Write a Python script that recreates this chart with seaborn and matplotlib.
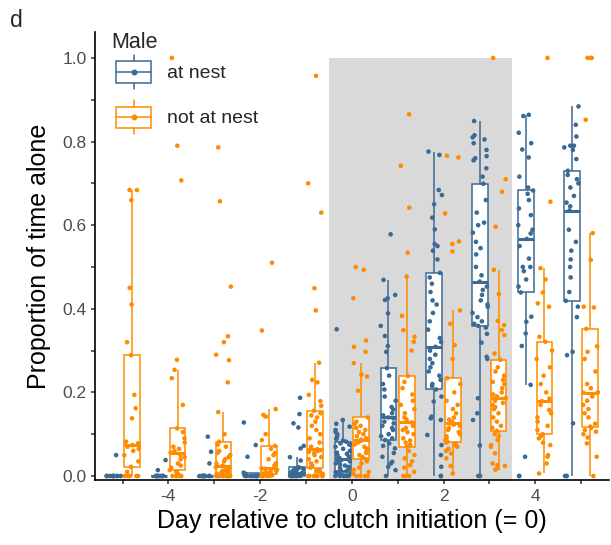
import numpy as np
import pandas as pd
import matplotlib
matplotlib.use("Agg")
import matplotlib.pyplot as plt
import seaborn as sns
from matplotlib.legend_handler import HandlerBase
from matplotlib.patches import Rectangle, Patch
from matplotlib.lines import Line2D

# ---------------- data ----------------
days = [-5, -4, -3, -2, -1, 0, 1, 2, 3, 4, 5]
groups = ["at nest", "not at nest"]

at_nest_m5 = [0, 0, 0, 0, 0, 0, 0, 0, 0, 0, 0.05]
away_m5 = [0, 0, 0, 0, 0, 0.01, 0.022, 0.035, 0.05, 0.06, 0.065, 0.07, 0.074, 0.078, 0.082,
           0.138, 0.162, 0.194, 0.289, 0.32, 0.41, 0.45, 0.66, 0.684, 0.684]

at_nest_m4 = [0, 0, 0, 0, 0, 0, 0, 0, 0, 0, 0.014, 0.038]
away_m4 = [0, 0, 0, 0, 0, 0.005, 0.01, 0.014, 0.02, 0.025, 0.03, 0.04, 0.045, 0.05, 0.056,
           0.06, 0.065, 0.07, 0.08, 0.09, 0.105, 0.114, 0.17, 0.234, 0.254, 0.278, 0.707, 0.79, 1.0]

at_nest_m3 = [0, 0, 0, 0, 0, 0, 0, 0, 0, 0, 0.03, 0.058, 0.094]
away_m3 = [0, 0, 0, 0, 0, 0, 0, 0, 0, 0, 0.005, 0.007, 0.009, 0.011, 0.013, 0.015, 0.017, 0.019,
           0.021, 0.023, 0.025, 0.03, 0.035, 0.04, 0.045, 0.05, 0.055, 0.06, 0.07, 0.075, 0.082,
           0.1, 0.153, 0.224, 0.277, 0.29, 0.32, 0.334, 0.453, 0.657, 0.786]

at_nest_m2 = [0, 0, 0, 0, 0, 0, 0, 0, 0, 0, 0.005, 0.008, 0.046, 0.074, 0.128]
away_m2 = [0, 0, 0, 0, 0, 0, 0.002, 0.004, 0.006, 0.008, 0.01, 0.012, 0.015, 0.017, 0.018,
           0.025, 0.03, 0.04, 0.05, 0.055, 0.065, 0.072, 0.086, 0.1, 0.142, 0.146, 0.16, 0.348, 0.51]

at_nest_m1 = [0, 0, 0, 0, 0, 0, 0, 0, 0, 0, 0.002, 0.004, 0.005, 0.006, 0.007, 0.008, 0.008,
              0.01, 0.012, 0.013, 0.015, 0.017, 0.018, 0.02, 0.021,
              0.037, 0.045, 0.066, 0.072, 0.116, 0.126, 0.148, 0.187]
away_m1 = [0, 0, 0, 0, 0, 0, 0, 0.005, 0.01, 0.012, 0.015, 0.02, 0.025, 0.03, 0.035, 0.04,
           0.045, 0.05, 0.055, 0.058, 0.06, 0.062, 0.064, 0.07, 0.08, 0.09, 0.1, 0.11, 0.12,
           0.13, 0.14, 0.145, 0.15, 0.156, 0.168, 0.179, 0.194, 0.224, 0.23, 0.271, 0.396,
           0.449, 0.63, 0.70, 0.957]

at_nest_0 = [0, 0, 0, 0, 0, 0, 0.003, 0.005, 0.007, 0.009, 0.011, 0.012, 0.015, 0.018, 0.02,
             0.022, 0.025, 0.028, 0.03, 0.033, 0.035, 0.038, 0.04, 0.043, 0.046, 0.05, 0.053,
             0.056, 0.06, 0.065, 0.07, 0.075, 0.078, 0.082, 0.085, 0.088, 0.09, 0.095, 0.1,
             0.105, 0.11, 0.118, 0.125, 0.134, 0.351]
away_0 = [0, 0, 0, 0, 0.005, 0.01, 0.015, 0.02, 0.03, 0.035, 0.04, 0.045, 0.05, 0.055, 0.06,
          0.065, 0.07, 0.075, 0.08, 0.084, 0.087, 0.09, 0.095, 0.1, 0.105, 0.11, 0.115, 0.12,
          0.125, 0.13, 0.14, 0.204, 0.238, 0.243, 0.27, 0.297, 0.309, 0.324, 0.425, 0.493, 0.50]

at_nest_1 = [0, 0.014, 0.022, 0.03, 0.034, 0.046, 0.055, 0.066, 0.072, 0.078, 0.086, 0.09,
             0.095, 0.1, 0.11, 0.115, 0.12, 0.126, 0.13, 0.138, 0.14, 0.145, 0.15, 0.159, 0.165,
             0.18, 0.19, 0.207, 0.22, 0.24, 0.258, 0.297, 0.311, 0.335, 0.359, 0.389, 0.421,
             0.425, 0.433, 0.469, 0.578]
away_1 = [0, 0, 0, 0.01, 0.02, 0.026, 0.035, 0.042, 0.05, 0.06, 0.07, 0.075, 0.08, 0.085, 0.09,
          0.1, 0.105, 0.11, 0.115, 0.12, 0.128, 0.135, 0.14, 0.15, 0.16, 0.17, 0.18, 0.195, 0.21,
          0.225, 0.239, 0.3, 0.321, 0.333, 0.349, 0.383, 0.477, 0.534, 0.642, 0.742, 0.865]

at_nest_2 = [0, 0, 0.022, 0.05, 0.074, 0.098, 0.134, 0.138, 0.142, 0.178, 0.19, 0.207, 0.215,
             0.22, 0.23, 0.24, 0.25, 0.26, 0.27, 0.28, 0.29, 0.3, 0.309, 0.32, 0.33, 0.35, 0.37,
             0.39, 0.41, 0.42, 0.44, 0.46, 0.475, 0.486, 0.518, 0.539, 0.55, 0.555, 0.59, 0.618,
             0.65, 0.672, 0.684, 0.768, 0.776]
away_2 = [0.006, 0.024, 0.042, 0.054, 0.06, 0.065, 0.07, 0.074, 0.078, 0.08, 0.082, 0.086,
          0.09, 0.095, 0.1, 0.105, 0.11, 0.115, 0.12, 0.123, 0.126, 0.13, 0.135, 0.14, 0.15,
          0.16, 0.17, 0.18, 0.2, 0.22, 0.234, 0.28, 0.313, 0.364, 0.396, 0.537, 0.555, 0.561,
          0.628, 0.762, 0.766]

at_nest_3 = [0, 0, 0.073, 0.134, 0.15, 0.186, 0.28, 0.285, 0.319, 0.34, 0.355, 0.359, 0.364,
             0.37, 0.38, 0.39, 0.405, 0.41, 0.42, 0.433, 0.445, 0.453, 0.465, 0.48, 0.5, 0.53,
             0.545, 0.56, 0.582, 0.6, 0.606, 0.63, 0.66, 0.699, 0.716, 0.736, 0.755, 0.76, 0.765,
             0.78, 0.796, 0.805, 0.81, 0.815, 0.849]
away_3 = [0.015, 0.018, 0.024, 0.026, 0.03, 0.054, 0.07, 0.074, 0.086, 0.095, 0.1, 0.108,
          0.115, 0.12, 0.13, 0.14, 0.15, 0.16, 0.165, 0.17, 0.175, 0.18, 0.186, 0.19, 0.195,
          0.2, 0.21, 0.22, 0.225, 0.23, 0.24, 0.25, 0.26, 0.278, 0.293, 0.337, 0.349, 0.361,
          0.371, 0.435, 0.493, 0.596, 0.68, 0.71, 1.0]

at_nest_4 = [0, 0, 0.046, 0.218, 0.311, 0.341, 0.369, 0.381, 0.439, 0.453, 0.47, 0.49, 0.5,
             0.5, 0.52, 0.55, 0.567, 0.58, 0.589, 0.6, 0.624, 0.64, 0.66, 0.675, 0.683, 0.69,
             0.716, 0.762, 0.781, 0.796, 0.821, 0.861, 0.864]
away_4 = [0.006, 0.03, 0.046, 0.05, 0.074, 0.08, 0.09, 0.095, 0.1, 0.11, 0.12, 0.13, 0.14,
          0.15, 0.158, 0.17, 0.179, 0.185, 0.2, 0.22, 0.24, 0.26, 0.28, 0.3, 0.321, 0.333,
          0.405, 0.413, 0.439, 0.47, 0.497, 0.656, 1.0]

at_nest_5 = [0, 0, 0, 0.126, 0.289, 0.297, 0.38, 0.405, 0.419, 0.44, 0.475, 0.5, 0.518, 0.539,
             0.56, 0.589, 0.635, 0.645, 0.654, 0.67, 0.69, 0.7, 0.71, 0.72, 0.73, 0.758, 0.78,
             0.786, 0.79, 0.79, 0.812, 0.84, 0.884]
away_5 = [0, 0.046, 0.078, 0.092, 0.1, 0.106, 0.11, 0.115, 0.118, 0.125, 0.14, 0.15, 0.16,
          0.17, 0.18, 0.19, 0.199, 0.2, 0.21, 0.22, 0.25, 0.28, 0.297, 0.31, 0.352, 0.403,
          0.405, 0.517, 0.581, 0.852, 1.0, 1.0, 1.0]

at_nest_lists = [at_nest_m5, at_nest_m4, at_nest_m3, at_nest_m2, at_nest_m1, at_nest_0,
                 at_nest_1, at_nest_2, at_nest_3, at_nest_4, at_nest_5]
away_lists = [away_m5, away_m4, away_m3, away_m2, away_m1, away_0,
              away_1, away_2, away_3, away_4, away_5]

shade_days = [-0.5, 3.5]   # shaded window (clutch period)
shade_top = 1.0

x_tick_labels = ["", "-4", "", "-2", "", "0", "", "2", "", "4", ""]
y_ticks = [0.0, 0.1, 0.2, 0.3, 0.4, 0.5, 0.6, 0.7, 0.8, 0.9, 1.0]
y_tick_labels = ["0.0", "", "0.2", "", "0.4", "", "0.6", "", "0.8", "", "1.0"]

# ---------------- build table ----------------
rows = []
for d, a, b in zip(days, at_nest_lists, away_lists):
    rows += [(d, groups[0], v) for v in a]
    rows += [(d, groups[1], v) for v in b]
df = pd.DataFrame(rows, columns=["day", "Male", "prop"])

# ---------------- style ----------------
sns.set_style("ticks")
plt.rcParams["font.family"] = ["Liberation Sans", "DejaVu Sans"]

BLUE = "#3B6A94"
ORANGE = "#FF8C00"
colors = {groups[0]: BLUE, groups[1]: ORANGE}

fig = plt.figure(figsize=(6.11, 5.45), dpi=100)
W, H = 611, 545
ax = fig.add_axes([95 / W, 65 / H, 513.6 / W, 448 / H])

ax.fill_between(shade_days, -0.02, shade_top, color="#D9D9D9", lw=0, zorder=0)

for g in groups:
    sns.boxplot(data=df[df["Male"] == g], x="day", y="prop", hue="Male", hue_order=groups,
                native_scale=True, dodge=True, palette={k: "white" for k in groups},
                linecolor=colors[g], linewidth=1.1, width=0.8, gap=0.14, showfliers=False,
                showcaps=False, medianprops=dict(linewidth=2.2), legend=False, ax=ax)

np.random.seed(7)
sns.stripplot(data=df, x="day", y="prop", hue="Male", hue_order=groups, palette=colors,
              native_scale=True, dodge=True, jitter=0.34, size=3.3, linewidth=0,
              zorder=3, legend=False, ax=ax)

ax.set_xlim(-5.6, 5.6)
ax.set_ylim(-0.0096, 1.062)
ax.set_xticks(days)
ax.set_xticklabels(x_tick_labels)
ax.set_yticks(y_ticks)
ax.set_yticklabels(y_tick_labels)
ax.tick_params(axis="both", which="both", bottom=True, left=True, length=3.2, width=1.1,
               color="#333333", labelcolor="#4D4D4D", labelsize=12.5, pad=3)
for s in ["top", "right"]:
    ax.spines[s].set_visible(False)
for s in ["left", "bottom"]:
    ax.spines[s].set_color("black")
    ax.spines[s].set_linewidth(1.2)

ax.set_xlabel("Day relative to clutch initiation (= 0)", fontsize=18, color="black", labelpad=4)
ax.set_ylabel("Proportion of time alone", fontsize=18, color="black", labelpad=8)


# ---------------- legend with boxplot glyphs ----------------
class BoxKey(HandlerBase):
    def create_artists(self, legend, orig_handle, xd, yd, width, height, fontsize, trans):
        c = orig_handle.get_edgecolor()
        x0, y0 = -xd, -yd
        cx, cy = x0 + width / 2, y0 + height / 2
        bh = height * 0.62
        box = Rectangle((x0, cy - bh / 2), width, bh, facecolor="white", edgecolor=c,
                        lw=1.1, transform=trans)
        w1 = Line2D([cx, cx], [y0, cy - bh / 2], color=c, lw=1.1, transform=trans)
        w2 = Line2D([cx, cx], [cy + bh / 2, y0 + height], color=c, lw=1.1, transform=trans)
        med = Line2D([x0, x0 + width], [cy, cy], color=c, lw=1.1, transform=trans)
        dot = Line2D([cx], [cy], marker="o", markersize=3.3, color=c, lw=0, transform=trans)
        return [w1, w2, box, med, dot]


handles = [Patch(edgecolor=colors[g], facecolor="white") for g in groups]
leg = ax.legend(handles, groups, loc="upper left",
                bbox_to_anchor=(116 / W, 1 - 55 / H), bbox_transform=fig.transFigure,
                frameon=False, fontsize=14, handlelength=1.8,
                handleheight=2.32, labelspacing=0.57, handletextpad=0.82, borderpad=0,
                borderaxespad=0, handler_map={Patch: BoxKey()})
fig.text(111 / W, 1 - 42 / H, "Male", fontsize=15.5, va="center", ha="left")

fig.text(10 / W, 1 - 9 / H, "d", fontsize=16.5, va="top", ha="left")

fig.savefig("out.png", dpi=100)
